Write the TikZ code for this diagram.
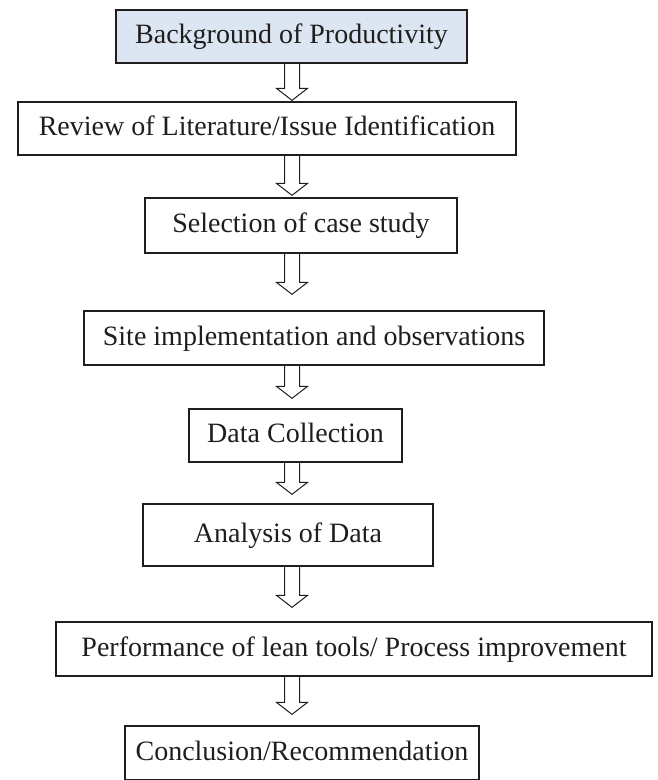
\documentclass[tikz,border=0pt]{standalone}
\usepackage{fontspec}
\setmainfont{Liberation Serif}
\usetikzlibrary{calc}

\definecolor{boxfill}{RGB}{220,230,242}
\definecolor{ink}{RGB}{30,30,30}

\begin{document}
\begin{tikzpicture}[x=1pt,y=-1pt,
  every node/.style={draw=ink, line width=1.3pt, inner sep=0pt, text=ink, font=\fontsize{28}{32}\selectfont, text height=19pt, text depth=5pt},
  flow/.style={draw=ink, line width=1pt, to path={let \p1=(\tikztostart), \p2=(\tikztotarget) in
    (\x1-7.5pt,\y1) -- (\x1-7.5pt,\y2+#1pt+12pt) -- (\x1-15.5pt,\y2+#1pt+12pt) -- (\x1,\y2+#1pt)
    -- (\x1+15.5pt,\y2+#1pt+12pt) -- (\x1+7.5pt,\y2+#1pt+12pt) -- (\x1+7.5pt,\y1)}},
  flow/.default=0]
\useasboundingbox (0,0) rectangle (657,780);

\coordinate (ax) at (292,0);

\node[fill=boxfill, minimum width=351, minimum height=53] (bg) at (291.5,36.5) {Background of Productivity};
\node[minimum width=498, minimum height=53] (lit) at (267,128.5) {Review of Literature/Issue Identification};
\node[minimum width=312, minimum height=55] (case) at (301,225.5) {Selection of case study};
\node[minimum width=460, minimum height=54] (site) at (314,338) {Site implementation and observations};
\node[minimum width=213, minimum height=53] (data) at (295.5,435.5) {Data Collection};
\node[minimum width=290, minimum height=62] (anal) at (288,535) {Analysis of Data};
\node[minimum width=596, minimum height=54] (perf) at (354,649) {Performance of lean tools/ Process improvement};
\node[minimum width=354, minimum height=54] (conc) at (302,753) {Conclusion/Recommendation};

\draw[flow=1] (bg.south -| ax) to (lit.north -| ax);
\draw[flow=2] (lit.south -| ax) to (case.north -| ax);
\draw[flow=16] (case.south -| ax) to (site.north -| ax);
\draw[flow=10] (site.south -| ax) to (data.north -| ax);
\draw[flow=9] (data.south -| ax) to (anal.north -| ax);
\draw[flow=14] (anal.south -| ax) to (perf.north -| ax);
\draw[flow=11] (perf.south -| ax) to (conc.north -| ax);

\end{tikzpicture}
\end{document}
